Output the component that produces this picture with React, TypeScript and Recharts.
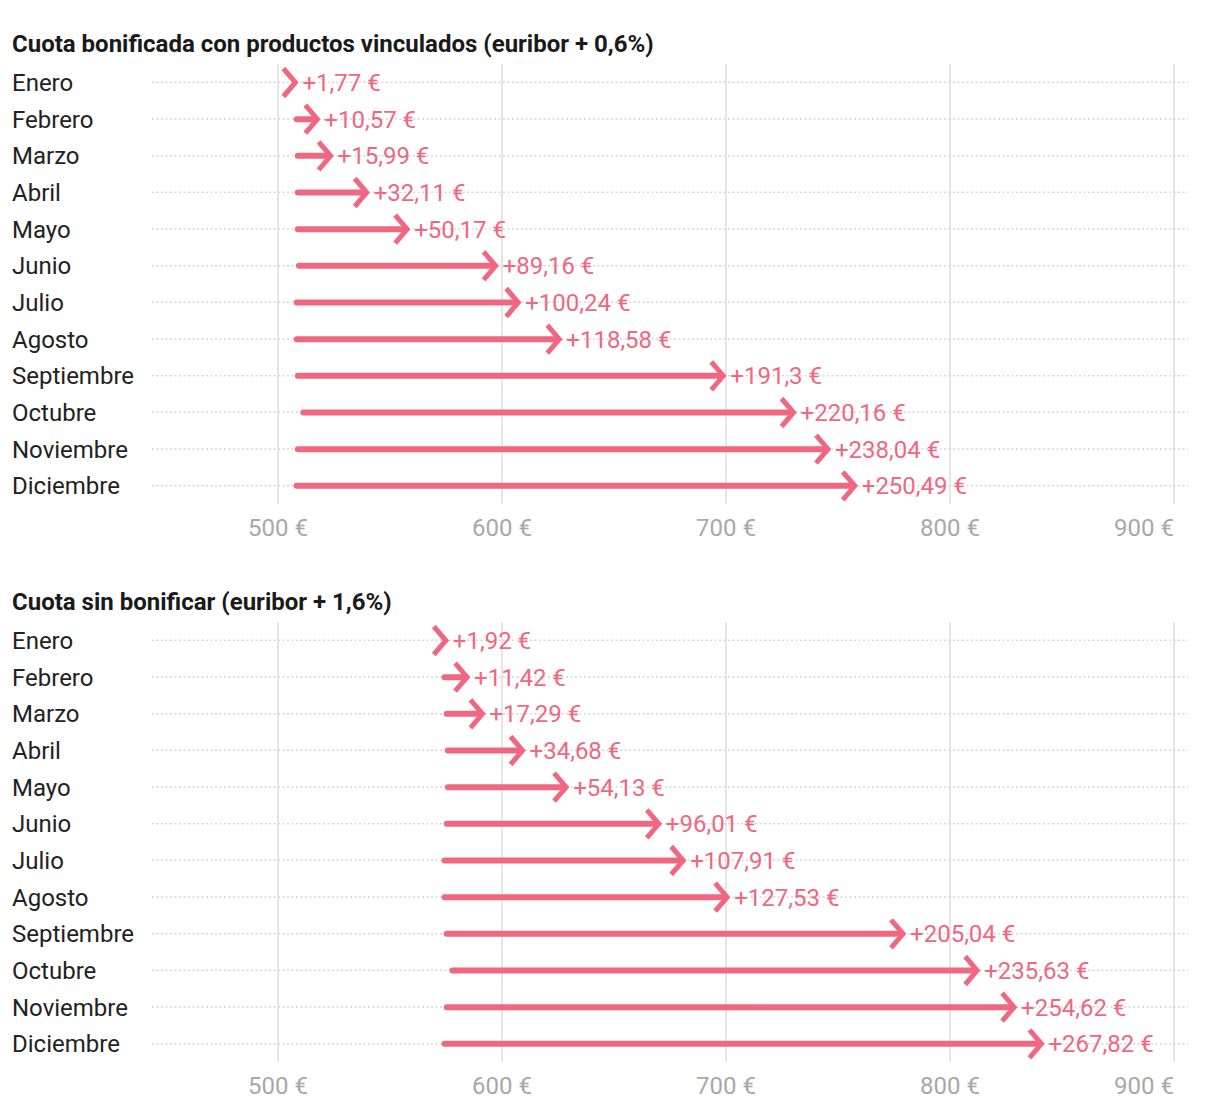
import { BarChart, Bar, XAxis, YAxis, CartesianGrid } from 'recharts'

const months = ['Enero', 'Febrero', 'Marzo', 'Abril', 'Mayo', 'Junio', 'Julio', 'Agosto', 'Septiembre', 'Octubre', 'Noviembre', 'Diciembre']

// cuota de partida (aprox.) y subida de cada mes
const bonifStart = [506, 507, 507.5, 507.5, 507.5, 508, 507, 507, 507.5, 510, 507.5, 507]
const bonifInc = [1.77, 10.57, 15.99, 32.11, 50.17, 89.16, 100.24, 118.58, 191.3, 220.16, 238.04, 250.49]
const sinStart = [573, 573, 574, 574.5, 574.5, 574, 573, 573, 574, 576.5, 574, 573]
const sinInc = [1.92, 11.42, 17.29, 34.68, 54.13, 96.01, 107.91, 127.53, 205.04, 235.63, 254.62, 267.82]

const xTicks = [500, 600, 700, 800, 900]
const xDomain = [443.75, 906.25]

const PINK = '#ef6781'

const build = (start: number[], inc: number[]) =>
  months.map((m, i) => ({ month: m, range: [start[i], start[i] + inc[i]], inc: inc[i] }))

const fmt = (v: number) => `+${String(v).replace('.', ',')} €`

function Arrow(props: any) {
  const { x, y, width, height, payload } = props
  const cy = y + height / 2
  const x2 = x + width
  return (
    <g>
      {width > 6 && (
        <line x1={x + 3} y1={cy} x2={x2 - 3} y2={cy} stroke={PINK} strokeWidth={6} strokeLinecap="round" />
      )}
      <path d={`M${x2 - 12},${cy - 14} L${x2},${cy} L${x2 - 12},${cy + 14}`}
        fill="none" stroke={PINK} strokeWidth={5} />
      <text x={x2 + 7} y={cy} dy="0.36em" fill={PINK} fontSize={24}>{fmt(payload.inc)}</text>
    </g>
  )
}

function MonthTick(props: any) {
  const { y, payload } = props
  return (
    <text x={4} y={y} dy="0.36em" textAnchor="start" fill="#222" fontSize={24}>{payload.value}</text>
  )
}

function EuroTick(props: any) {
  const { x, y, payload } = props
  const last = payload.value === xTicks[xTicks.length - 1]
  return (
    <text x={x} y={y} dy="0.71em" textAnchor={last ? 'end' : 'middle'} fill="#a8a8a8" fontSize={24}>
      {`${payload.value} €`}
    </text>
  )
}

function Panel({ data }: { data: any[] }) {
  return (
    <BarChart width={1204} height={500} data={data} layout="vertical"
      margin={{ top: 14, right: 24, bottom: 6, left: 0 }} barCategoryGap={0}>
      <CartesianGrid horizontal={false} syncWithTicks stroke="#e6e6e6" strokeWidth={2} />
      <CartesianGrid vertical={false} syncWithTicks stroke="#d6d6d6" strokeWidth={1.5} strokeDasharray="2 2.5" />
      <XAxis type="number" domain={xDomain} ticks={xTicks} allowDataOverflow
        axisLine={false} tickLine={false} height={40} tick={<EuroTick />} tickMargin={9} />
      <YAxis type="category" dataKey="month" width={144} axisLine={false} tickLine={false}
        tick={<MonthTick />} />
      <Bar dataKey="range" shape={<Arrow />} isAnimationActive={false} />
    </BarChart>
  )
}

const titleStyle = {
  position: 'absolute' as const, left: 4, fontWeight: 700, fontSize: 24,
  color: '#1a1a1a', lineHeight: '28px',
}

export default function App() {
  return (
    <div style={{ position: 'relative', width: 1204, height: 1098, fontFamily: 'Roboto, sans-serif', background: '#fff' }}>
      <div style={{ ...titleStyle, top: 22 }}>Cuota bonificada con productos vinculados (euribor + 0,6%)</div>
      <div style={{ position: 'absolute', left: 0, top: 42 }}>
        <Panel data={build(bonifStart, bonifInc)} />
      </div>
      <div style={{ ...titleStyle, top: 580 }}>Cuota sin bonificar (euribor + 1,6%)</div>
      <div style={{ position: 'absolute', left: 0, top: 600 }}>
        <Panel data={build(sinStart, sinInc)} />
      </div>
    </div>
  )
}
